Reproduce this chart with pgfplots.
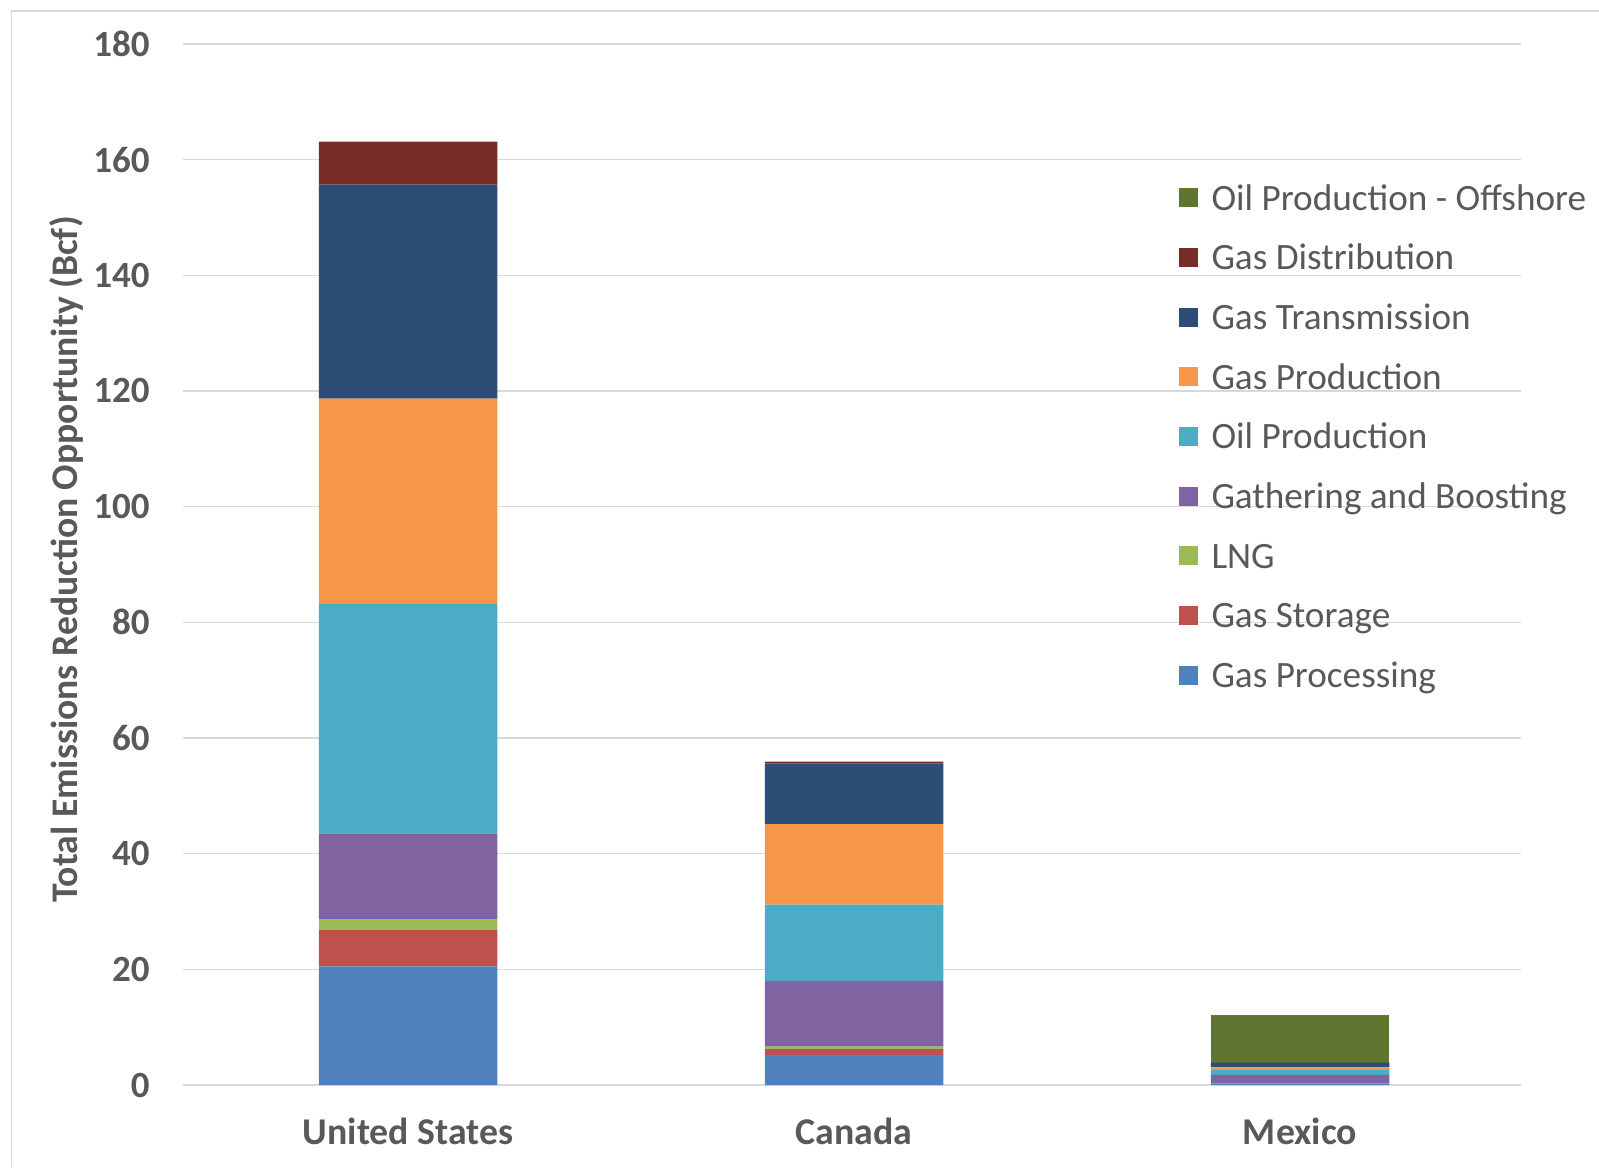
\documentclass[border=0pt]{standalone}
\usepackage{fontspec}
\setmainfont{Carlito}
\usepackage{pgfplots}
\pgfplotsset{compat=1.18}
\definecolor{gridgrey}{HTML}{D9D9D9}
\definecolor{txtgrey}{HTML}{595959}
\definecolor{cProc}{HTML}{4F81BD}
\definecolor{cStor}{HTML}{C0504D}
\definecolor{cLNG}{HTML}{9BBB59}
\definecolor{cGB}{HTML}{8064A2}
\definecolor{cOP}{HTML}{4BACC6}
\definecolor{cGP}{HTML}{F79646}
\definecolor{cTr}{HTML}{2C4D75}
\definecolor{cDi}{HTML}{772C2A}
\definecolor{cOff}{HTML}{5F7530}
\begin{document}
\begin{tikzpicture}
\path[use as bounding box] (0,0) rectangle (799.5pt,583.5pt);
\draw[color=gridgrey, line width=0.75pt] (5.85pt,0) -- (5.85pt,578pt) -- (799.5pt,578pt);
\begin{axis}[
  at={(91.5pt,41pt)}, anchor=south west,
  scale only axis, width=669pt, height=520.5pt,
  ymin=0, ymax=180, xmin=-0.5045, xmax=2.4955,
  ybar stacked, bar width=89.25pt,
  axis line style={draw=none},
  major tick length=0pt,
  ymajorgrids, grid style={color=gridgrey, line width=0.75pt},
  xtick={0,1,2}, xticklabels={United States,Canada,Mexico},
  ytick={0,20,...,180},
  /pgf/number format/assume math mode=true,
  yticklabel style={font=\bfseries\fontsize{18.5}{20}\selectfont, text=txtgrey, anchor=east, inner sep=0pt, xshift=-16.5pt},
  xticklabel style={font=\bfseries\fontsize{18.9}{20}\selectfont, text=txtgrey, anchor=base, inner sep=0pt, yshift=-29.75pt},
  ylabel={Total Emissions Reduction Opportunity (Bcf)},
  ylabel style={font=\bfseries\fontsize{18.8}{20}\selectfont, text=txtgrey, at={(axis description cs:-0.0874,0.505)}, anchor=center, rotate=0},
  reverse legend,
  legend cell align=left,
  legend image code/.code={\fill[#1,draw=none] (0pt,-3.15pt) rectangle (9.5pt,6.35pt); \path[fill=none,draw=none] (16.25pt,0pt);},
  legend style={at={(axis description cs:0.7444,0.8654)}, anchor=north west, draw=none, fill=none,
    inner sep=0pt, outer sep=0pt, row sep=12.84pt,
    font=\fontsize{18.6}{20}\selectfont, text=txtgrey,
    nodes={inner sep=0pt, text height=13pt, text depth=4pt}},
]
\addplot[fill=cProc, draw=none] coordinates {(0,20.5) (1,5.2) (2,0.3)};
\addlegendentry{Gas Processing}
\addplot[fill=cStor, draw=none] coordinates {(0,6.3) (1,1.0) (2,0)};
\addlegendentry{Gas Storage}
\addplot[fill=cLNG, draw=none] coordinates {(0,1.9) (1,0.45) (2,0)};
\addlegendentry{LNG}
\addplot[fill=cGB, draw=none] coordinates {(0,14.8) (1,11.35) (2,1.45)};
\addlegendentry{Gathering and Boosting}
\addplot[fill=cOP, draw=none] coordinates {(0,39.7) (1,13.2) (2,0.85)};
\addlegendentry{Oil Production}
\addplot[fill=cGP, draw=none] coordinates {(0,35.5) (1,13.9) (2,0.45)};
\addlegendentry{Gas Production}
\addplot[fill=cTr, draw=none] coordinates {(0,37.0) (1,10.5) (2,0.8)};
\addlegendentry{Gas Transmission}
\addplot[fill=cDi, draw=none] coordinates {(0,7.4) (1,0.3) (2,0)};
\addlegendentry{Gas Distribution}
\addplot[fill=cOff, draw=none] coordinates {(0,0) (1,0) (2,8.3)};
\addlegendentry{Oil Production - Offshore}
\end{axis}
\end{tikzpicture}
\end{document}
